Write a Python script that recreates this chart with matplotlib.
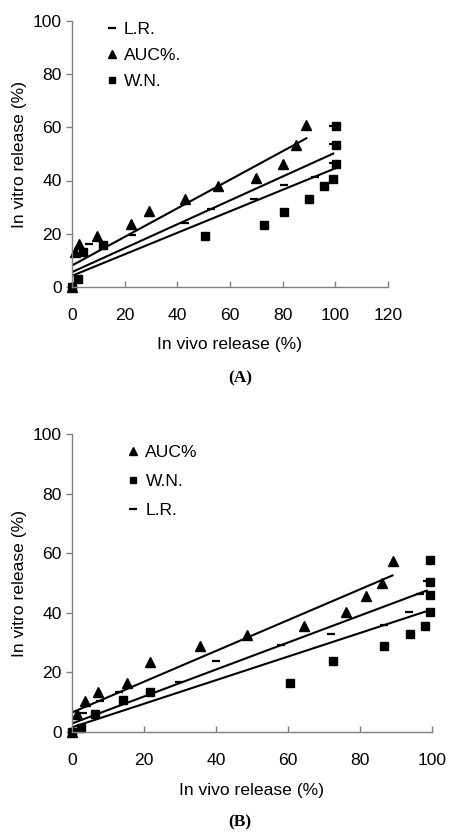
import matplotlib
matplotlib.use('Agg')
import matplotlib.pyplot as plt
from matplotlib.lines import Line2D
import numpy as np

plt.rcParams['font.family'] = ['Liberation Sans', 'DejaVu Sans']

# ---- panel A data ----
auc_a_x = [0, 1.0, 2.7, 9.5, 22.3, 29.4, 43.1, 55.3, 69.8, 80.1, 85.2, 89.0]
auc_a_y = [0, 13.2, 16.0, 19.2, 23.5, 28.4, 33.0, 38.0, 40.8, 46.4, 53.5, 60.8]
wn_a_x = [0, 2.3, 4.2, 11.9, 50.4, 72.9, 80.4, 90.1, 95.6, 99.2, 100.4, 100.4, 100.4]
wn_a_y = [0, 2.9, 13.2, 15.7, 19.1, 23.4, 28.3, 32.9, 37.9, 40.6, 46.4, 53.4, 60.7]
lr_a_x = [0, 6.3, 22.9, 43.1, 52.7, 69.1, 80.6, 92.3, 99.2, 99.2, 99.2]
lr_a_y = [0, 16.0, 19.6, 24.0, 29.4, 33.2, 38.4, 41.3, 46.7, 53.8, 60.7]
# trendlines (slope, intercept) for AUC, L.R., W.N.
trend_a = {'AUC': (0.538, 8.0), 'LR': (0.450, 5.5), 'WN': (0.405, 4.1)}

# ---- panel B data ----
auc_b_x = [0, 1.4, 3.5, 7.1, 15.3, 21.5, 35.5, 48.5, 64.6, 76.2, 81.8, 86.1, 89.1]
auc_b_y = [0, 5.9, 10.4, 13.3, 16.3, 23.4, 28.8, 32.6, 35.7, 40.2, 45.6, 50.1, 57.4]
wn_b_x = [0, 2.3, 6.4, 14.0, 21.7, 60.6, 72.6, 86.7, 93.9, 98.2, 99.4, 99.6, 99.6, 99.4]
wn_b_y = [0, 1.1, 6.1, 10.5, 13.5, 16.5, 23.7, 28.8, 32.7, 35.5, 40.2, 45.9, 50.3, 57.6]
lr_b_x = [0, 3.1, 7.6, 13.1, 29.7, 39.9, 58.0, 71.9, 86.7, 93.8, 96.8, 98.6]
lr_b_y = [0, 6.2, 10.3, 13.3, 16.6, 23.8, 29.1, 32.7, 35.8, 40.4, 46.4, 50.6]
trend_b = {'AUC': (0.517, 6.5), 'LR': (0.453, 2.8), 'WN': (0.396, 1.5)}

W, H = 449, 836
FS = 12.6
fig = plt.figure(figsize=(W / 100, H / 100), dpi=100)


def px_axes(left, top, right, bottom):
    return fig.add_axes([left / W, 1 - bottom / H, (right - left) / W, (bottom - top) / H])


def style(ax, xmax, xpad, xlabelpad):
    ax.set_xlim(0, xmax)
    ax.set_ylim(0, 100)
    ax.set_xticks(np.arange(0, xmax + 1, 20))
    ax.set_yticks(np.arange(0, 101, 20))
    for s in ['top', 'right']:
        ax.spines[s].set_visible(False)
    for s in ['left', 'bottom']:
        ax.spines[s].set_color('#808080')
        ax.spines[s].set_linewidth(1.0)
    ax.tick_params(axis='y', direction='out', length=4.5, width=1, color='#808080',
                   labelsize=FS, pad=3)
    ax.tick_params(axis='x', direction='in', length=4.5, width=1, color='#808080',
                   labelsize=FS, pad=xpad)
    ax.set_xlabel('In vivo release (%)', fontsize=FS, labelpad=xlabelpad)
    ax.set_ylabel('In vitro release (%)', fontsize=FS, labelpad=4)
    ax.patch.set_alpha(0)


def draw(ax, series, trend):
    for key, (x, y) in series.items():
        if key == 'AUC':
            ax.plot(x, y, ls='none', marker='^', ms=6.5, color='black', clip_on=False)
        elif key == 'WN':
            ax.plot(x, y, ls='none', marker='s', ms=5.5, color='black', clip_on=False)
        else:
            ax.plot(x, y, ls='none', marker='_', ms=6, mew=1.6, color='black', clip_on=False)
        k, b = trend[key]
        xs = np.array([0, max(x)])
        ax.plot(xs, k * xs + b, color='black', lw=1.5)


handles = {
    'LR': Line2D([], [], ls='none', marker='_', ms=6, mew=1.6, color='black'),
    'AUC': Line2D([], [], ls='none', marker='^', ms=6, color='black'),
    'WN': Line2D([], [], ls='none', marker='s', ms=5, color='black'),
}

# panel A
axA = px_axes(72, 21.2, 388, 286.7)
style(axA, 120, 15.5, 10)
draw(axA, {'LR': (lr_a_x, lr_a_y), 'AUC': (auc_a_x, auc_a_y), 'WN': (wn_a_x, wn_a_y)}, trend_a)
axA.legend([handles['LR'], handles['AUC'], handles['WN']], ['L.R.', 'AUC%.', 'W.N.'],
           loc='upper left', bbox_to_anchor=(0.105, 0.999), frameon=False, fontsize=FS,
           handlelength=0.8, handletextpad=0.25, labelspacing=0.63, borderpad=0,
           borderaxespad=0)
fig.text(240 / W, 1 - 378 / H, '(A)', ha='center', va='center', fontsize=12.5,
         fontweight='bold', family='Liberation Serif')

# panel B
axB = px_axes(72.3, 434.4, 431.7, 731.7)
style(axB, 100, 15, 11)
draw(axB, {'AUC': (auc_b_x, auc_b_y), 'WN': (wn_b_x, wn_b_y), 'LR': (lr_b_x, lr_b_y)}, trend_b)
axB.legend([handles['AUC'], handles['WN'], handles['LR']], ['AUC%', 'W.N.', 'L.R.'],
           loc='upper left', bbox_to_anchor=(0.15, 0.965), frameon=False, fontsize=FS,
           handlelength=0.8, handletextpad=0.3, labelspacing=0.78, borderpad=0,
           borderaxespad=0)
fig.text(240 / W, 1 - 822 / H, '(B)', ha='center', va='center', fontsize=12.5,
         fontweight='bold', family='Liberation Serif')

fig.savefig('out.png', dpi=100)
